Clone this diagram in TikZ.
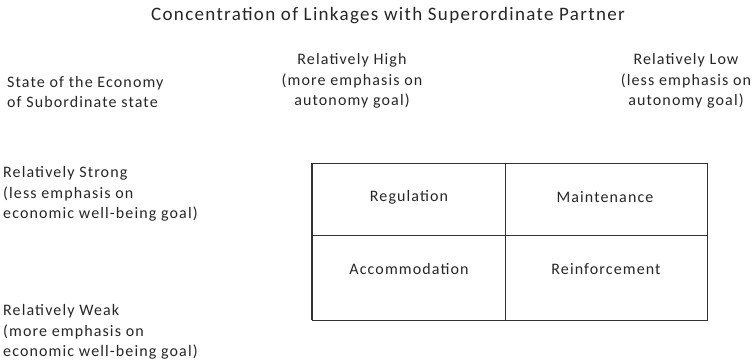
\documentclass[tikz,border=0pt]{standalone}
\usepackage{fontspec}
\setmainfont{Carlito}[LetterSpace=7]
\definecolor{ink}{HTML}{262626}
\definecolor{rule}{HTML}{333333}
\begin{document}
\begin{tikzpicture}[x=1pt,y=-1pt,
  txt/.style={inner sep=0pt,text=ink,font=\fontsize{16}{20.8}\selectfont},
  cell/.style={inner sep=0pt,text=ink,font=\fontsize{16}{20.8}\selectfont},
  grid/.style={draw=rule,line width=1pt}]
\useasboundingbox (0,0) rectangle (756,364);
\node[txt,font=\fontsize{19}{22}\selectfont] (title) at (388,16) {Concentration of Linkages with Superordinate Partner};
\node[txt,align=left,anchor=west] (state) at (7,92) {State of the Economy\\of Subordinate state};
\node[txt,align=center] (high) at (352,81) {Relatively High\\(more emphasis on\\autonomy goal)};
\node[txt,align=center] (low) at (686,81) {Relatively Low\\(less emphasis on\\autonomy goal)};
\node[txt,align=left,anchor=west] (strong) at (3,194) {Relatively Strong\\(less emphasis on\\economic well-being goal)};
\node[txt,align=left,anchor=west] (weak) at (3,332) {Relatively Weak\\(more emphasis on\\economic well-being goal)};
\coordinate (tl) at (312,163);
\coordinate (br) at (707,320);
\coordinate (mt) at (505,163);
\coordinate (mb) at (505,320);
\coordinate (ml) at (312,235);
\coordinate (mr) at (707,235);
\draw[grid] (tl) rectangle (br);
\draw[draw=rule,line width=1.8pt] (tl) -- (tl|-br);
\draw[grid] (mt) -- (mb);
\draw[grid] (ml) -- (mr);
\node[cell] (reg) at (409,197) {Regulation};
\node[cell] (mai) at (605,197) {Maintenance};
\node[cell] (acc) at (409,269) {Accommodation};
\node[cell] (rei) at (606,269) {Reinforcement};
\end{tikzpicture}
\end{document}
